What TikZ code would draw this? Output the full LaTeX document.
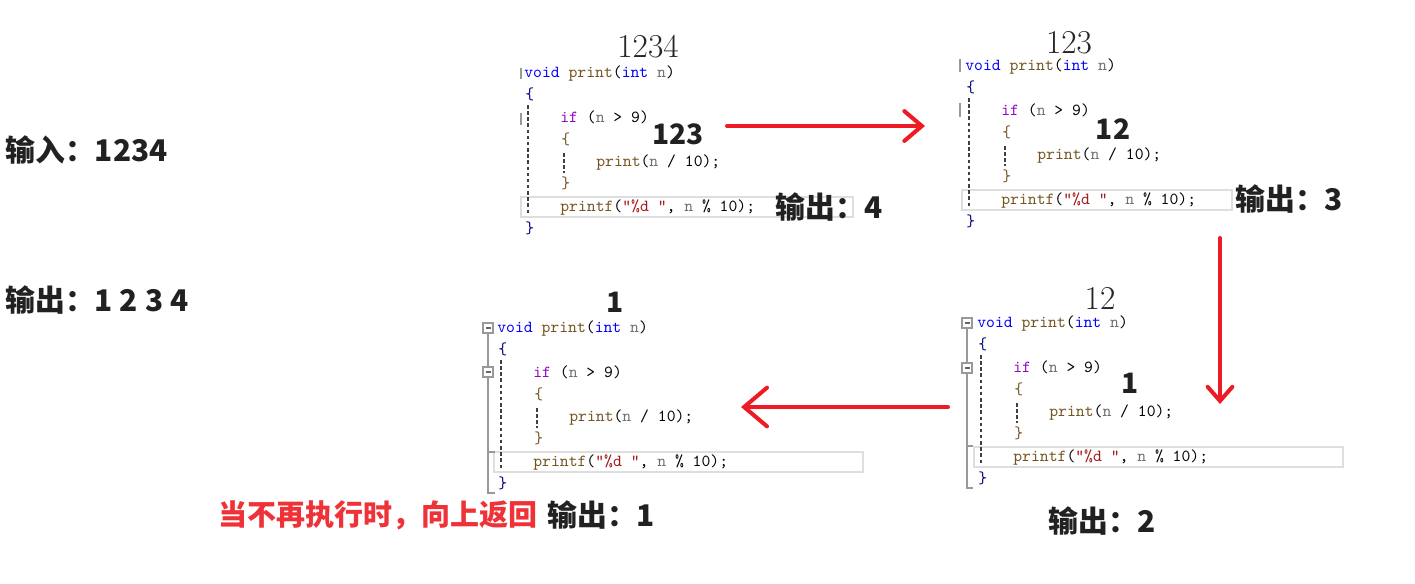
\documentclass[tikz,border=0pt]{standalone}
\usepackage{fontspec}
\usetikzlibrary{arrows.meta}
\newfontfamily\cjk{Noto Sans CJK SC}

\definecolor{kwblue}{RGB}{0,0,255}
\definecolor{fnbrown}{RGB}{116,83,31}
\definecolor{ctlpurple}{RGB}{143,8,196}
\definecolor{strred}{RGB}{163,21,21}
\definecolor{parmgray}{RGB}{110,110,110}
\definecolor{penred}{RGB}{237,28,36}
\definecolor{notered}{RGB}{238,50,55}

\newcommand{\kw}[1]{\textcolor{kwblue}{#1}}
\newcommand{\fn}[1]{\textcolor{fnbrown}{#1}}
\newcommand{\ct}[1]{\textcolor{ctlpurple}{#1}}
\newcommand{\st}[1]{\textcolor{strred}{#1}}
\newcommand{\pa}[1]{\textcolor{parmgray}{#1}}

% one copy of print(), #1 name prefix, #2/#3 position of "void", #4 length of highlight
\newcommand{\printcode}[4]{%
  \begin{scope}[shift={(#2,#3)}]
    \draw[hlbox] (-3,124) rectangle (#4,144);
    \draw[guide] (4,32) -- (4,142);
    \draw[guide] (40,80) -- (40,100);
    \node[code] (#1l1) at (0,0) {\kw{void} \fn{print}(\kw{int} \pa{n})};
    \node[code] (#1l2) at (1,22.3) {\textcolor{kwblue!50!black}{\{}};
    \node[code] (#1l3) at (36,44.6) {\ct{if} (\pa{n} > 9)};
    \node[code] (#1l4) at (37,66.9) {\fn{\{}};
    \node[code] (#1l5) at (72,89.2) {\fn{print}(\pa{n} / 10);};
    \node[code] (#1l6) at (37,111.5) {\fn{\}}};
    \node[code] (#1l7) at (36,133.8) {\fn{printf}(\st{"\%d "}, \pa{n} \% 10);};
    \node[code] (#1l8) at (1,156.1) {\textcolor{kwblue!50!black}{\}}};
  \end{scope}}

\begin{document}
\begin{tikzpicture}[x=0.02cm, y=-0.02cm,
    code/.style={anchor=west, inner sep=0pt, text height=7pt, text depth=2pt,
      font=\fontsize{9.6}{11}\selectfont\ttfamily},
    hlbox/.style={draw=black!13, line width=1pt},
    guide/.style={black!75, line width=0.6pt, dash pattern=on 2pt off 1.5pt},
    gutter/.style={black!40, line width=0.7pt},
    title/.style={font=\fontsize{19}{22}\selectfont, text=black!85, inner sep=0pt},
    big/.style={font=\cjk\bfseries\fontsize{17}{20}\selectfont, text=black!87, inner sep=0pt},
    mid/.style={font=\cjk\bfseries\fontsize{16}{19}\selectfont, text=black!87, inner sep=0pt},
    pen/.style={penred, line width=2.3pt, line cap=round}]

  \useasboundingbox (0,0) rectangle (1415,583);

  % Input and output on the left
  \node[big, anchor=west] (input) at (5,150) {输入：1234};
  \node[big, anchor=west] (output) at (5,300) {输出：1 2 3 4};

  % Call with 1234 (top left)
  \printcode{a}{524}{73}{329}
  \draw[gutter] (521,68) -- (521,79);
  \draw[gutter] (521,113) -- (521,125);
  \node[title] (ta) at (648,47) {1234};
  \node[mid] (na) at (678,134) {123};
  \node[big, anchor=west] (oa) at (775,207) {输出：4};

  % Call with 123 (top right)
  \printcode{b}{965}{66}{267}
  \draw[gutter] (960,59) -- (960,72);
  \draw[gutter] (960,103) -- (960,117);
  \node[title] (tb) at (1069,43) {123};
  \node[mid] (nb) at (1113,129) {12};
  \node[big, anchor=west] (ob) at (1235,199) {输出：3};

  % Call with 12 (bottom right)
  \printcode{c}{977}{323}{366}
  \foreach \dy in {0,45} {
    \draw[gutter, fill=white] (962,{318+\dy}) rectangle (972,{328+\dy});
    \draw[black!60, line width=0.6pt] (964.5,{323+\dy}) -- (969.5,{323+\dy});
  }
  \draw[gutter] (967,328) -- (967,363);
  \draw[gutter] (967,373) -- (967,488) -- (973,488);
  \draw[gutter] (967,446) -- (973,446);
  \node[title] (tc) at (1100,298) {12};
  \node[mid] (nc) at (1130,383) {1};
  \node[big, anchor=west] (oc) at (1048,521) {输出：2};

  % Call with 1 (bottom left)
  \printcode{d}{497}{328}{366}
  \foreach \dy in {0,44} {
    \draw[gutter, fill=white] (483,{323+\dy}) rectangle (493,{333+\dy});
    \draw[black!60, line width=0.6pt] (485.5,{328+\dy}) -- (490.5,{328+\dy});
  }
  \draw[gutter] (488,333) -- (488,367);
  \draw[gutter] (488,377) -- (488,493) -- (495,493);
  \draw[gutter] (488,452) -- (495,452);
  \node[mid] (td) at (615,302) {1};
  \node[font=\cjk\bfseries\fontsize{16.5}{19}\selectfont, text=notered, inner sep=0pt, anchor=west]
    (back) at (218,515) {当不再执行时，向上返回};
  \node[big, anchor=west] (od) at (547,515) {输出：1};

  % Red arrows between the calls
  \coordinate (s1) at (727,126);
  \coordinate (e1) at (925,126);
  \coordinate (s2) at (1220,238);
  \coordinate (e2) at (1220,404);
  \coordinate (s3) at (948,407);
  \coordinate (e3) at (741,407);
  \draw[pen, -{Straight Barb[length=10pt, width=17pt, line cap=round]}] (s1) -- (e1);
  \draw[pen, -{Straight Barb[length=8pt, width=14pt, line cap=round]}] (s2) -- (e2);
  \draw[pen, -{Straight Barb[length=13pt, width=22pt, line cap=round]}] (s3) -- (e3);

\end{tikzpicture}
\end{document}
